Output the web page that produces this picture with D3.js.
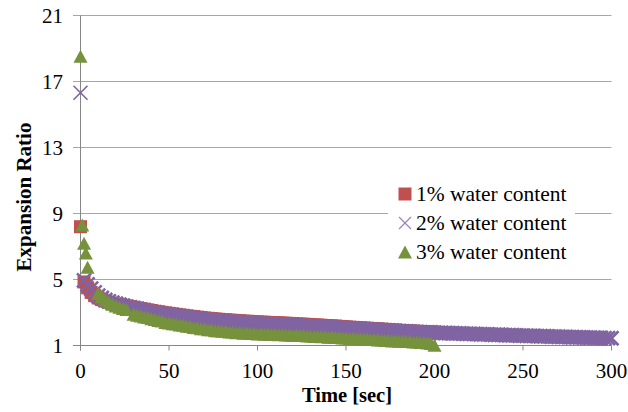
<!DOCTYPE html>
<html>
<head>
<meta charset="utf-8">
<script src="https://cdn.jsdelivr.net/npm/d3@7/dist/d3.min.js"></script>
<style>
  html, body { margin: 0; padding: 0; background: #fff; }
  svg { display: block; }
</style>
</head>
<body>
<svg id="chart" width="628" height="412"></svg>
<script>
// Expansion ratio over time for three water contents
const seriesNames = ["1% water content", "2% water content", "3% water content"];

const xTicks = [0, 50, 100, 150, 200, 250, 300];
const yTicks = [1, 5, 9, 13, 17, 21];

// 1% water content: time (s) and ratio
const time1 = [0, 2, 4, 6, 8, 10, 12, 14, 16, 18, 20, 22, 24, 26, 28, 30, 32, 34, 36, 38, 40,
  42, 44, 46, 48, 50, 52, 54, 56, 58, 60, 62, 64, 66, 68, 70, 72, 74, 76, 78, 80,
  82, 84, 86, 88, 90, 92, 94, 96, 98, 100, 102, 104, 106, 108, 110, 112, 114, 116, 118, 120,
  122, 124, 126, 128, 130, 132, 134, 136, 138, 140, 142, 144, 146, 148, 150, 152, 154, 156, 158, 160,
  162, 164, 166, 168, 170, 172, 174, 176, 178, 180, 182, 184, 186, 188, 190, 192, 194, 196, 198, 200];
const ratio1 = [8.20, 4.85, 4.50, 4.22, 4.02, 3.88, 3.78, 3.70, 3.63, 3.57, 3.52, 3.48, 3.44, 3.40, 3.36, 3.32, 3.28, 3.24, 3.20, 3.16, 3.12,
  3.08, 3.05, 3.01, 2.98, 2.95, 2.92, 2.89, 2.86, 2.83, 2.80, 2.77, 2.75, 2.72, 2.70, 2.67, 2.65, 2.63, 2.61, 2.59, 2.57,
  2.56, 2.54, 2.53, 2.51, 2.50, 2.48, 2.47, 2.46, 2.44, 2.43, 2.42, 2.41, 2.40, 2.39, 2.38, 2.37, 2.36, 2.35, 2.34, 2.33,
  2.31, 2.30, 2.29, 2.28, 2.26, 2.25, 2.24, 2.23, 2.21, 2.20, 2.19, 2.18, 2.16, 2.15, 2.13, 2.11, 2.10, 2.09, 2.07, 2.06,
  2.05, 2.03, 2.02, 2.01, 1.99, 1.98, 1.97, 1.95, 1.94, 1.92, 1.91, 1.90, 1.89, 1.88, 1.86, 1.85, 1.84, 1.83, 1.82, 1.81];

// 2% water content
const time2 = [0, 2, 4, 6, 8, 10, 12, 14, 16, 18, 20, 22, 24, 26, 28, 30, 32, 34, 36, 38, 40,
  42, 44, 46, 48, 50, 52, 54, 56, 58, 60, 62, 64, 66, 68, 70, 72, 74, 76, 78, 80,
  82, 84, 86, 88, 90, 92, 94, 96, 98, 100, 102, 104, 106, 108, 110, 112, 114, 116, 118, 120,
  122, 124, 126, 128, 130, 132, 134, 136, 138, 140, 142, 144, 146, 148, 150, 152, 154, 156, 158, 160,
  162, 164, 166, 168, 170, 172, 174, 176, 178, 180, 182, 184, 186, 188, 190, 192, 194, 196, 198, 200,
  202, 204, 206, 208, 210, 212, 214, 216, 218, 220, 222, 224, 226, 228, 230, 232, 234, 236, 238, 240,
  242, 244, 246, 248, 250, 252, 254, 256, 258, 260, 262, 264, 266, 268, 270, 272, 274, 276, 278, 280,
  282, 284, 286, 288, 290, 292, 294, 296, 298, 300];
const ratio2 = [16.32, 4.95, 4.70, 4.45, 4.22, 4.02, 3.88, 3.76, 3.67, 3.60, 3.53, 3.47, 3.41, 3.36, 3.31, 3.26, 3.21, 3.16, 3.12, 3.07, 3.03,
  2.99, 2.96, 2.92, 2.89, 2.86, 2.83, 2.80, 2.77, 2.74, 2.71, 2.68, 2.65, 2.62, 2.59, 2.57, 2.55, 2.53, 2.51, 2.49, 2.47,
  2.46, 2.44, 2.43, 2.41, 2.40, 2.38, 2.37, 2.36, 2.34, 2.33, 2.32, 2.31, 2.30, 2.29, 2.28, 2.27, 2.26, 2.25, 2.24, 2.23,
  2.21, 2.20, 2.19, 2.18, 2.16, 2.15, 2.14, 2.13, 2.12, 2.10, 2.09, 2.08, 2.07, 2.06, 2.05, 2.04, 2.02, 2.01, 2.00, 1.99,
  1.98, 1.96, 1.95, 1.94, 1.93, 1.92, 1.91, 1.90, 1.88, 1.87, 1.86, 1.85, 1.84, 1.83, 1.82, 1.81, 1.80, 1.80, 1.79, 1.78,
  1.77, 1.76, 1.76, 1.75, 1.74, 1.73, 1.73, 1.72, 1.71, 1.70, 1.70, 1.69, 1.68, 1.67, 1.67, 1.66, 1.65, 1.65, 1.64, 1.63,
  1.62, 1.62, 1.61, 1.60, 1.60, 1.59, 1.58, 1.58, 1.57, 1.56, 1.56, 1.55, 1.54, 1.54, 1.53, 1.52, 1.52, 1.51, 1.50, 1.50,
  1.49, 1.49, 1.48, 1.47, 1.47, 1.46, 1.46, 1.45, 1.45, 1.44];

// 3% water content
const time3 = [0, 1, 2, 3, 4, 10, 12, 14, 16, 18, 20, 22, 24, 26,
  30, 32, 34, 36, 38, 40, 42, 44, 46, 48, 50, 52, 54, 56, 58, 60, 62, 64, 66, 68, 70,
  72, 74, 76, 78, 80, 82, 84, 86, 88, 90, 92, 94, 96, 98, 100, 102, 104, 106, 108, 110,
  112, 114, 116, 118, 120, 122, 124, 126, 128, 130, 132, 134, 136, 138, 140, 142, 144, 146, 148, 150,
  152, 154, 156, 158, 160, 162, 164, 166, 168, 170, 172, 174, 176, 178, 180, 182, 184, 186, 188, 190,
  192, 194, 196, 198, 200];
const ratio3 = [18.53, 8.30, 7.20, 6.60, 5.75, 4.15, 3.95, 3.78, 3.62, 3.50, 3.40, 3.32, 3.25, 3.18,
  2.90, 2.84, 2.79, 2.72, 2.69, 2.62, 2.58, 2.51, 2.48, 2.40, 2.37, 2.32, 2.30, 2.25, 2.23, 2.17, 2.15, 2.09, 2.07, 2.02, 2.01,
  1.96, 1.95, 1.90, 1.90, 1.86, 1.86, 1.82, 1.82, 1.78, 1.79, 1.75, 1.76, 1.72, 1.73, 1.70, 1.71, 1.68, 1.69, 1.66, 1.68,
  1.65, 1.66, 1.63, 1.64, 1.61, 1.63, 1.60, 1.61, 1.57, 1.58, 1.55, 1.56, 1.53, 1.54, 1.50, 1.51, 1.48, 1.49, 1.45, 1.46,
  1.43, 1.44, 1.41, 1.42, 1.38, 1.39, 1.36, 1.37, 1.34, 1.34, 1.31, 1.32, 1.28, 1.29, 1.26, 1.27, 1.24, 1.24, 1.21, 1.21,
  1.18, 1.18, 1.15, 1.12, 1.02];

const FONT = "'Liberation Serif', 'Times New Roman', Tinos, 'DejaVu Serif', serif";

const svg = d3.select("#chart")
  .attr("font-family", FONT)
  .style("font-family", FONT);

const x = d3.scaleLinear().domain([0, 300]).range([80.5, 611.5]);
const y = d3.scaleLinear().domain([1, 21]).range([345.5, 15.5]);

// horizontal gridlines with left tick overhang
svg.append("g").selectAll("line").data(yTicks).join("line")
  .attr("x1", 73).attr("x2", x(300))
  .attr("y1", d => y(d)).attr("y2", d => y(d))
  .attr("stroke", d => d === 1 ? "#868686" : "#a6a6a6")
  .attr("stroke-width", 1);

// vertical axis line
svg.append("line")
  .attr("x1", x(0)).attr("x2", x(0))
  .attr("y1", y(21)).attr("y2", y(1) + 5)
  .attr("stroke", "#868686");

// x ticks
svg.append("g").selectAll("line").data(xTicks).join("line")
  .attr("x1", d => x(d)).attr("x2", d => x(d))
  .attr("y1", y(1)).attr("y2", y(1) + 5)
  .attr("stroke", "#868686");

function label(sel) {
  return sel.attr("font-family", FONT).style("font-family", FONT).attr("fill", "#000");
}

// tick labels
label(svg.append("g").selectAll("text").data(yTicks).join("text"))
  .attr("x", 63).attr("y", d => y(d) + 7)
  .attr("text-anchor", "end")
  .attr("font-size", 21)
  .text(d => d);

label(svg.append("g").selectAll("text").data(xTicks).join("text"))
  .attr("x", d => x(d)).attr("y", 378)
  .attr("text-anchor", "middle")
  .attr("font-size", 21)
  .text(d => d);

// axis titles
label(svg.append("text"))
  .attr("x", (x(0) + x(300)) / 2 + 1).attr("y", 402)
  .attr("text-anchor", "middle")
  .attr("font-size", 20.5).attr("font-weight", "bold")
  .text("Time [sec]");

label(svg.append("text"))
  .attr("transform", "translate(31,197) rotate(-90)")
  .attr("text-anchor", "middle")
  .attr("font-size", 21).attr("font-weight", "bold")
  .text("Expansion Ratio");

// marker shapes
const colors = ["#c0504d", "#8064a2", "#76923c"];
const sq = 13, xs = 7, tw = 7, th = 6.5;
const squarePath = `M${-sq/2},${-sq/2}h${sq}v${sq}h${-sq}Z`;
const crossPath = `M${-xs},${-xs}L${xs},${xs}M${-xs},${xs}L${xs},${-xs}`;
const triPath = `M0,${-th}L${tw},${th}L${-tw},${th}Z`;

function drawMarkers(times, values, kind, color) {
  const pts = times.map((t, i) => [t, values[i]]);
  const g = svg.append("g");
  const sel = g.selectAll("path").data(pts).join("path")
    .attr("transform", d => `translate(${x(d[0])},${y(d[1])})`);
  if (kind === "square") sel.attr("d", squarePath).attr("fill", color);
  if (kind === "cross") sel.attr("d", crossPath).attr("fill", "none").attr("stroke", color)
    .attr("stroke-width", (d, i) => i === 0 ? 1.6 : 2.6);
  if (kind === "triangle") sel.attr("d", triPath).attr("fill", color);
}

drawMarkers(time1, ratio1, "square", colors[0]);
drawMarkers(time2, ratio2, "cross", colors[1]);
drawMarkers(time3, ratio3, "triangle", colors[2]);

// legend
const legend = svg.append("g");
legend.append("rect")
  .attr("x", 388).attr("y", 180).attr("width", 187).attr("height", 86)
  .attr("fill", "#fff");
const kinds = ["square", "cross", "triangle"];
const rowY = [194, 223, 252];
seriesNames.forEach((name, i) => {
  const p = legend.append("path")
    .attr("transform", `translate(405,${rowY[i]})`);
  if (kinds[i] === "square") p.attr("d", squarePath).attr("fill", colors[i]);
  if (kinds[i] === "cross") p.attr("d", `M-6,-6L6,6M-6,6L6,-6`).attr("fill", "none").attr("stroke", "#9983bb").attr("stroke-width", 1.2);
  if (kinds[i] === "triangle") p.attr("d", triPath).attr("fill", colors[i]);
  label(legend.append("text"))
    .attr("x", 416).attr("y", rowY[i] + 7)
    .attr("font-size", 21.5)
    .text(name);
});
</script>
</body>
</html>
